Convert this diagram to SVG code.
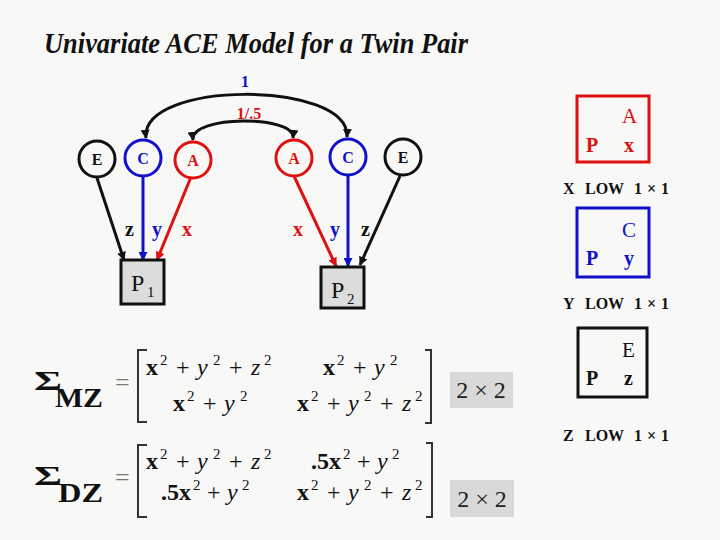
<svg xmlns="http://www.w3.org/2000/svg" width="720" height="540" viewBox="0 0 720 540">
<style>
.lbl{font-family:"Liberation Serif",serif;font-weight:bold}
.ser{font-family:"Liberation Serif",serif}
.nd{fill:none;stroke-width:3}
.tr{fill:#dd1111}.tb{fill:#1111cc}.tk{fill:#111}
.ln{stroke-width:3;fill:none}
.m{font-family:"Liberation Serif",serif;font-size:24px;fill:#111}
.mb{font-weight:bold}
.mi{font-style:italic}
.sp{font-family:"Liberation Serif",serif;font-size:15px;fill:#111}
.cap{font-family:"Liberation Serif",serif;font-weight:bold;font-size:16px;fill:#111}
.sig{font-family:"Liberation Serif",serif;font-weight:bold;fill:#111}
.eq{font-family:"Liberation Serif",serif;font-size:26px;fill:#777}
.dim{font-family:"Liberation Serif",serif;font-size:24px;fill:#222}
</style>
<defs>
<marker id="ak" viewBox="0 0 10 10" refX="9" refY="5" markerWidth="3" markerHeight="3" orient="auto-start-reverse" markerUnits="strokeWidth"><path d="M0,0L10,5L0,10z" fill="#111"/></marker>
<marker id="ab" viewBox="0 0 10 10" refX="9" refY="5" markerWidth="3" markerHeight="3" orient="auto" markerUnits="strokeWidth"><path d="M0,0L10,5L0,10z" fill="#1111cc"/></marker>
<marker id="ar" viewBox="0 0 10 10" refX="9" refY="5" markerWidth="3" markerHeight="3" orient="auto" markerUnits="strokeWidth"><path d="M0,0L10,5L0,10z" fill="#dd1111"/></marker>
</defs>
<rect width="720" height="540" fill="#f8f8f6"/>
<text x="44" y="53" font-family="'Liberation Serif',serif" font-weight="bold" font-style="italic" font-size="29" textLength="424" lengthAdjust="spacingAndGlyphs" fill="#111">Univariate ACE Model for a Twin Pair</text>

<g id="connectors">
<path class="ln" stroke="#111" d="M146,138 C140,80 350,80 347,137" marker-start="url(#ak)" marker-end="url(#ak)"/>
<path class="ln" stroke="#111" d="M193,140 C190,115 296,115 293,138" marker-start="url(#ak)" marker-end="url(#ak)"/>
<text x="245" y="87" class="lbl tb" font-size="16" text-anchor="middle">1</text>
<text x="249" y="119" class="lbl tr" font-size="16" text-anchor="middle">1/.5</text>
<line class="ln" stroke="#111" x1="97" y1="178" x2="124" y2="260" marker-end="url(#ak)"/>
<line class="ln" stroke="#1111cc" x1="143" y1="177" x2="143" y2="260" marker-end="url(#ab)"/>
<line class="ln" stroke="#dd1111" x1="191" y1="177" x2="157" y2="260" marker-end="url(#ar)"/>
<line class="ln" stroke="#dd1111" x1="294" y1="176" x2="336" y2="266" marker-end="url(#ar)"/>
<line class="ln" stroke="#1111cc" x1="348" y1="176" x2="348" y2="266" marker-end="url(#ab)"/>
<line class="ln" stroke="#111" x1="400" y1="176" x2="360" y2="265" marker-end="url(#ak)"/>
<text x="125" y="236" class="lbl tk" font-size="20">z</text>
<text x="152" y="236" class="lbl tb" font-size="20">y</text>
<text x="182" y="236" class="lbl tr" font-size="20">x</text>
<text x="293" y="236" class="lbl tr" font-size="20">x</text>
<text x="330" y="236" class="lbl tb" font-size="20">y</text>
<text x="361" y="236" class="lbl tk" font-size="20">z</text>
</g>

<g id="E1"><circle cx="97" cy="159" r="18" class="nd" stroke="#111"/><text x="97" y="165" class="lbl tk" font-size="16" text-anchor="middle">E</text></g>
<g id="C1"><circle cx="143" cy="158" r="18" class="nd" stroke="#1111cc"/><text x="143" y="164" class="lbl tb" font-size="16" text-anchor="middle">C</text></g>
<g id="A1"><circle cx="193" cy="160" r="18" class="nd" stroke="#dd1111"/><text x="193" y="166" class="lbl tr" font-size="16" text-anchor="middle">A</text></g>
<g id="A2"><circle cx="294" cy="158" r="18" class="nd" stroke="#dd1111"/><text x="294" y="164" class="lbl tr" font-size="16" text-anchor="middle">A</text></g>
<g id="C2"><circle cx="348" cy="157" r="18" class="nd" stroke="#1111cc"/><text x="348" y="163" class="lbl tb" font-size="16" text-anchor="middle">C</text></g>
<g id="E2"><circle cx="403" cy="157" r="18" class="nd" stroke="#111"/><text x="403" y="163" class="lbl tk" font-size="16" text-anchor="middle">E</text></g>

<g id="P1"><rect x="121" y="260" width="43" height="44" fill="#dcdcdc" stroke="#111" stroke-width="3"/><text x="131" y="291" class="ser tk" font-size="24">P</text><text x="147" y="297" class="ser tk" font-size="15">1</text></g>
<g id="P2"><rect x="321" y="267" width="43" height="41" fill="#dcdcdc" stroke="#111" stroke-width="3"/><text x="331" y="298" class="ser tk" font-size="24">P</text><text x="347" y="304" class="ser tk" font-size="15">2</text></g>

<g id="legendX">
<rect x="577" y="96" width="72" height="66" fill="none" stroke="#dd1111" stroke-width="3"/>
<text x="622" y="123" class="ser tr" font-size="21">A</text>
<text x="586" y="152" class="lbl tr" font-size="20">P</text>
<text x="624" y="152" class="lbl tr" font-size="20">x</text>
<text class="cap" y="194"><tspan x="563">X</tspan><tspan x="585">LOW</tspan><tspan x="634">1</tspan><tspan x="647">×</tspan><tspan x="661">1</tspan></text>
</g>
<g id="legendY">
<rect x="577" y="208" width="72" height="69" fill="none" stroke="#1111cc" stroke-width="3"/>
<text x="622" y="237" class="ser tb" font-size="21">C</text>
<text x="586" y="265" class="lbl tb" font-size="20">P</text>
<text x="624" y="265" class="lbl tb" font-size="20">y</text>
<text class="cap" y="309"><tspan x="563">Y</tspan><tspan x="585">LOW</tspan><tspan x="634">1</tspan><tspan x="647">×</tspan><tspan x="661">1</tspan></text>
</g>
<g id="legendZ">
<rect x="578" y="328" width="69" height="69" fill="none" stroke="#111" stroke-width="3"/>
<text x="622" y="357" class="ser tk" font-size="21">E</text>
<text x="586" y="385" class="lbl tk" font-size="20">P</text>
<text x="624" y="385" class="lbl tk" font-size="20">z</text>
<text class="cap" y="441"><tspan x="563">Z</tspan><tspan x="585">LOW</tspan><tspan x="634">1</tspan><tspan x="647">×</tspan><tspan x="661">1</tspan></text>
</g>

<g id="sigmaMZ">
<text x="34" y="390" class="sig" font-size="27" textLength="28" lengthAdjust="spacingAndGlyphs">Σ</text>
<text x="55" y="407" class="sig" font-size="28" textLength="48" lengthAdjust="spacingAndGlyphs">MZ</text>
<text x="115" y="391" class="eq">=</text>
<path d="M147,350 H138 V422 H147 M425,350 H431 V423 H425" fill="none" stroke="#333" stroke-width="2"/>
<g class="m">
<text x="146" y="375" class="m mb">x</text><text x="160" y="365" class="sp">2</text><text x="176" y="375" class="m">+</text><text x="197" y="375" class="m mi">y</text><text x="213" y="365" class="sp">2</text><text x="229" y="375" class="m">+</text><text x="251" y="375" class="m mi">z</text><text x="264" y="365" class="sp">2</text>
<text x="323" y="375" class="m mb">x</text><text x="337" y="365" class="sp">2</text><text x="353" y="375" class="m">+</text><text x="374" y="375" class="m mi">y</text><text x="390" y="365" class="sp">2</text>
<text x="173" y="411" class="m mb">x</text><text x="187" y="401" class="sp">2</text><text x="203" y="411" class="m">+</text><text x="224" y="411" class="m mi">y</text><text x="240" y="401" class="sp">2</text>
<text x="297" y="411" class="m mb">x</text><text x="311" y="401" class="sp">2</text><text x="327" y="411" class="m">+</text><text x="348" y="411" class="m mi">y</text><text x="364" y="401" class="sp">2</text><text x="380" y="411" class="m">+</text><text x="402" y="411" class="m mi">z</text><text x="415" y="401" class="sp">2</text>
</g>
<rect x="450" y="372" width="63" height="36" fill="#d9d9d9"/>
<text x="481" y="398" class="dim" text-anchor="middle">2 × 2</text>
</g>
<g id="sigmaDZ">
<text x="34" y="485" class="sig" font-size="27" textLength="28" lengthAdjust="spacingAndGlyphs">Σ</text>
<text x="58" y="502" class="sig" font-size="28" textLength="45" lengthAdjust="spacingAndGlyphs">DZ</text>
<text x="115" y="486" class="eq">=</text>
<path d="M147,445 H138 V517 H147 M426,443 H432 V517 H426" fill="none" stroke="#333" stroke-width="2"/>
<g class="m">
<text x="146" y="469" class="m mb">x</text><text x="160" y="459" class="sp">2</text><text x="176" y="469" class="m">+</text><text x="197" y="469" class="m mi">y</text><text x="213" y="459" class="sp">2</text><text x="229" y="469" class="m">+</text><text x="251" y="469" class="m mi">z</text><text x="264" y="459" class="sp">2</text>
<text x="311" y="469" class="m mb">.5x</text><text x="343" y="459" class="sp">2</text><text x="357" y="469" class="m">+</text><text x="377" y="469" class="m mi">y</text><text x="392" y="459" class="sp">2</text>
<text x="161" y="500" class="m mb">.5x</text><text x="193" y="490" class="sp">2</text><text x="207" y="500" class="m">+</text><text x="227" y="500" class="m mi">y</text><text x="242" y="490" class="sp">2</text>
<text x="297" y="500" class="m mb">x</text><text x="311" y="490" class="sp">2</text><text x="327" y="500" class="m">+</text><text x="348" y="500" class="m mi">y</text><text x="364" y="490" class="sp">2</text><text x="380" y="500" class="m">+</text><text x="402" y="500" class="m mi">z</text><text x="415" y="490" class="sp">2</text>
</g>
<rect x="450" y="480" width="64" height="37" fill="#d9d9d9"/>
<text x="482" y="507" class="dim" text-anchor="middle">2 × 2</text>
</g>
</svg>
